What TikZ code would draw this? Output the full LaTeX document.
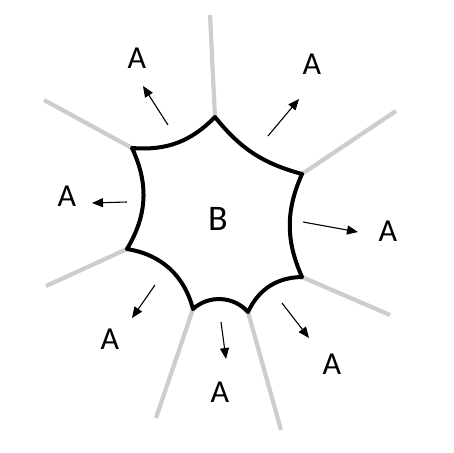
\documentclass[tikz,border=0pt]{standalone}
\usepackage{fontspec}
\setmainfont{Carlito}
\usetikzlibrary{arrows.meta}
\definecolor{spoke}{RGB}{205,205,205}
\tikzset{
  spokeline/.style={draw=spoke,line width=4.2pt},
  cellwall/.style={draw=black,line width=4pt,line join=round},
  flow/.style={draw=black,line width=1.1pt,-{Triangle[length=11pt,width=9pt]}},
  lbl/.style={font=\fontsize{32}{36}\selectfont,inner sep=0pt},
  cen/.style={font=\fontsize{36}{40}\selectfont,inner sep=0pt}
}
\begin{document}
\begin{tikzpicture}[x=1pt,y=-1pt]
\useasboundingbox[fill=white] (0,0) rectangle (453,453);
% vertices
\coordinate (v1) at (215,117);
\coordinate (v2) at (302,174);
\coordinate (v3) at (302,277);
\coordinate (v4) at (248,312);
\coordinate (v5) at (193,309);
\coordinate (v6) at (127,249);
\coordinate (v7) at (132,148);
% spoke ends
\coordinate (s1) at (210,15);
\coordinate (s2) at (396,111);
\coordinate (s3) at (390,315);
\coordinate (s4) at (281,430);
\coordinate (s5) at (156,418);
\coordinate (s6) at (46,286);
\coordinate (s7) at (44,100);
\foreach \i in {1,...,7} \draw[spokeline] (v\i) -- (s\i);
% cell outline
\draw[cellwall] (v1) to[bend right=18] (v2) to[bend right=24] (v3)
  to[bend right=32] (v4) to[bend right=45] (v5) to[bend right=33] (v6)
  to[bend right=28] (v7) to[bend right=25] (v1) -- cycle;
% arrows
\coordinate (a1s) at (168,125); \coordinate (a1e) at (143,86);
\coordinate (a2s) at (268,136); \coordinate (a2e) at (299,99);
\coordinate (a3s) at (303,222); \coordinate (a3e) at (358,232);
\coordinate (a4s) at (282,303); \coordinate (a4e) at (309,338);
\coordinate (a5s) at (221,322); \coordinate (a5e) at (226,359);
\coordinate (a6s) at (155,285); \coordinate (a6e) at (132,318);
\coordinate (a7s) at (127,202); \coordinate (a7e) at (92,203);
\foreach \i in {1,...,7} \draw[flow] (a\i s) -- (a\i e);
% labels
\node[lbl] (l1) at (137,58) {A};
\node[lbl] (l2) at (312,64) {A};
\node[lbl] (l3) at (388,231) {A};
\node[lbl] (l4) at (332,364) {A};
\node[lbl] (l5) at (220,392) {A};
\node[lbl] (l6) at (110,339) {A};
\node[lbl] (l7) at (67,196) {A};
\node[cen] (b) at (218,219) {B};
\end{tikzpicture}
\end{document}
